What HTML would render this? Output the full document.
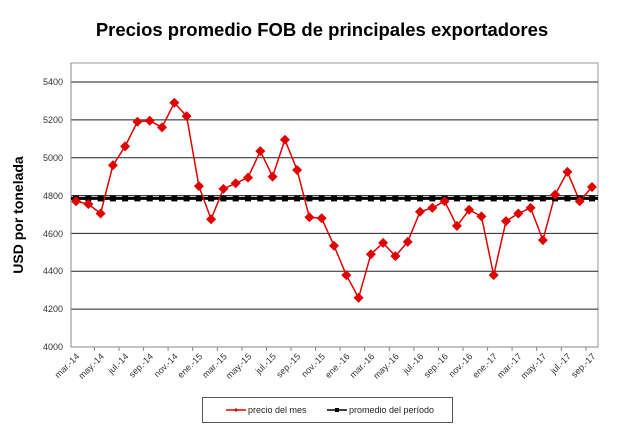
<!DOCTYPE html>
<html><head><meta charset="utf-8"><style>
body{margin:0;background:#fff;width:640px;height:435px;overflow:hidden}
svg{font-family:"Liberation Sans",Arial,sans-serif}
</style></head><body>
<svg width="640" height="435" viewBox="0 0 640 435" xmlns="http://www.w3.org/2000/svg">
<text x="322" y="36" text-anchor="middle" font-size="18.5" font-weight="bold">Precios promedio FOB de principales exportadores</text>
<text transform="translate(23,215) rotate(-90)" text-anchor="middle" font-size="14" font-weight="bold">USD por tonelada</text>
<rect x="71" y="63" width="527" height="284" fill="#fff" stroke="#999" stroke-width="1"/>
<g stroke="#222" stroke-width="1">
<line x1="71" x2="598" y1="82" y2="82"/><line x1="71" x2="598" y1="119.9" y2="119.9"/>
<line x1="71" x2="598" y1="157.7" y2="157.7"/><line x1="71" x2="598" y1="195.6" y2="195.6"/>
<line x1="71" x2="598" y1="233.4" y2="233.4"/><line x1="71" x2="598" y1="271.3" y2="271.3"/>
<line x1="71" x2="598" y1="309.1" y2="309.1"/>
</g>
<line x1="71" y1="63" x2="71" y2="347" stroke="#888"/>
<line x1="71" y1="347" x2="598" y2="347" stroke="#888"/>
<g font-size="9" fill="#333" text-anchor="end">
<text x="63" y="85">5400</text><text x="63" y="123">5200</text><text x="63" y="161">5000</text>
<text x="63" y="199">4800</text><text x="63" y="237">4600</text><text x="63" y="274">4400</text>
<text x="63" y="312">4200</text><text x="63" y="350">4000</text>
</g>
<line x1="71" y1="198.4" x2="598" y2="198.4" stroke="#000" stroke-width="3"/>
<polyline fill="none" stroke="#e00000" stroke-width="1.5" points="76,201.2 88.3,204.1 100.6,213.5 112.9,165.3 125.1,146.4 137.4,121.7 149.7,120.8 162,127.4 174.3,102.8 186.6,116.1 198.9,186.1 211.1,219.2 223.4,188.9 235.7,183.3 248,177.6 260.3,151.1 272.6,176.6 284.9,139.7 297.1,170 309.4,217.3 321.7,218.3 334,245.7 346.3,275.1 358.6,297.8 370.9,254.2 383.1,242.9 395.4,256.1 407.7,241.9 420,211.7 432.3,207.9 444.6,201.2 456.9,225.9 469.1,209.8 481.4,216.4 493.7,275.1 506,221.1 518.3,213.5 530.6,207.9 542.9,240.1 555.1,194.6 567.4,171.9 579.7,201.2 592,187"/>
<g fill="#000">
<rect x="73" y="195.4" width="6" height="6"/><rect x="85.3" y="195.4" width="6" height="6"/><rect x="97.6" y="195.4" width="6" height="6"/><rect x="109.9" y="195.4" width="6" height="6"/><rect x="122.1" y="195.4" width="6" height="6"/><rect x="134.4" y="195.4" width="6" height="6"/><rect x="146.7" y="195.4" width="6" height="6"/><rect x="159" y="195.4" width="6" height="6"/><rect x="171.3" y="195.4" width="6" height="6"/><rect x="183.6" y="195.4" width="6" height="6"/><rect x="195.9" y="195.4" width="6" height="6"/><rect x="208.1" y="195.4" width="6" height="6"/><rect x="220.4" y="195.4" width="6" height="6"/><rect x="232.7" y="195.4" width="6" height="6"/><rect x="245" y="195.4" width="6" height="6"/><rect x="257.3" y="195.4" width="6" height="6"/><rect x="269.6" y="195.4" width="6" height="6"/><rect x="281.9" y="195.4" width="6" height="6"/><rect x="294.1" y="195.4" width="6" height="6"/><rect x="306.4" y="195.4" width="6" height="6"/><rect x="318.7" y="195.4" width="6" height="6"/><rect x="331" y="195.4" width="6" height="6"/><rect x="343.3" y="195.4" width="6" height="6"/><rect x="355.6" y="195.4" width="6" height="6"/><rect x="367.9" y="195.4" width="6" height="6"/><rect x="380.1" y="195.4" width="6" height="6"/><rect x="392.4" y="195.4" width="6" height="6"/><rect x="404.7" y="195.4" width="6" height="6"/><rect x="417" y="195.4" width="6" height="6"/><rect x="429.3" y="195.4" width="6" height="6"/><rect x="441.6" y="195.4" width="6" height="6"/><rect x="453.9" y="195.4" width="6" height="6"/><rect x="466.1" y="195.4" width="6" height="6"/><rect x="478.4" y="195.4" width="6" height="6"/><rect x="490.7" y="195.4" width="6" height="6"/><rect x="503" y="195.4" width="6" height="6"/><rect x="515.3" y="195.4" width="6" height="6"/><rect x="527.6" y="195.4" width="6" height="6"/><rect x="539.9" y="195.4" width="6" height="6"/><rect x="552.1" y="195.4" width="6" height="6"/><rect x="564.4" y="195.4" width="6" height="6"/><rect x="576.7" y="195.4" width="6" height="6"/><rect x="589" y="195.4" width="6" height="6"/>
</g>
<g fill="#e00000">
<path d="M76,196.2l5,5l-5,5l-5,-5z"/><path d="M88.3,199.1l5,5l-5,5l-5,-5z"/><path d="M100.6,208.5l5,5l-5,5l-5,-5z"/><path d="M112.9,160.3l5,5l-5,5l-5,-5z"/><path d="M125.1,141.4l5,5l-5,5l-5,-5z"/><path d="M137.4,116.7l5,5l-5,5l-5,-5z"/><path d="M149.7,115.8l5,5l-5,5l-5,-5z"/><path d="M162,122.4l5,5l-5,5l-5,-5z"/><path d="M174.3,97.8l5,5l-5,5l-5,-5z"/><path d="M186.6,111.1l5,5l-5,5l-5,-5z"/><path d="M198.9,181.1l5,5l-5,5l-5,-5z"/><path d="M211.1,214.2l5,5l-5,5l-5,-5z"/><path d="M223.4,183.9l5,5l-5,5l-5,-5z"/><path d="M235.7,178.3l5,5l-5,5l-5,-5z"/><path d="M248,172.6l5,5l-5,5l-5,-5z"/><path d="M260.3,146.1l5,5l-5,5l-5,-5z"/><path d="M272.6,171.6l5,5l-5,5l-5,-5z"/><path d="M284.9,134.7l5,5l-5,5l-5,-5z"/><path d="M297.1,165l5,5l-5,5l-5,-5z"/><path d="M309.4,212.3l5,5l-5,5l-5,-5z"/><path d="M321.7,213.3l5,5l-5,5l-5,-5z"/><path d="M334,240.7l5,5l-5,5l-5,-5z"/><path d="M346.3,270.1l5,5l-5,5l-5,-5z"/><path d="M358.6,292.8l5,5l-5,5l-5,-5z"/><path d="M370.9,249.2l5,5l-5,5l-5,-5z"/><path d="M383.1,237.9l5,5l-5,5l-5,-5z"/><path d="M395.4,251.1l5,5l-5,5l-5,-5z"/><path d="M407.7,236.9l5,5l-5,5l-5,-5z"/><path d="M420,206.7l5,5l-5,5l-5,-5z"/><path d="M432.3,202.9l5,5l-5,5l-5,-5z"/><path d="M444.6,196.2l5,5l-5,5l-5,-5z"/><path d="M456.9,220.9l5,5l-5,5l-5,-5z"/><path d="M469.1,204.8l5,5l-5,5l-5,-5z"/><path d="M481.4,211.4l5,5l-5,5l-5,-5z"/><path d="M493.7,270.1l5,5l-5,5l-5,-5z"/><path d="M506,216.1l5,5l-5,5l-5,-5z"/><path d="M518.3,208.5l5,5l-5,5l-5,-5z"/><path d="M530.6,202.9l5,5l-5,5l-5,-5z"/><path d="M542.9,235.1l5,5l-5,5l-5,-5z"/><path d="M555.1,189.6l5,5l-5,5l-5,-5z"/><path d="M567.4,166.9l5,5l-5,5l-5,-5z"/><path d="M579.7,196.2l5,5l-5,5l-5,-5z"/><path d="M592,182l5,5l-5,5l-5,-5z"/>
</g>
<g stroke="#888" stroke-width="1">
<line x1="94.4" x2="94.4" y1="347" y2="351"/><line x1="119" x2="119" y1="347" y2="351"/><line x1="143.6" x2="143.6" y1="347" y2="351"/><line x1="168.1" x2="168.1" y1="347" y2="351"/><line x1="192.7" x2="192.7" y1="347" y2="351"/><line x1="217.3" x2="217.3" y1="347" y2="351"/><line x1="241.9" x2="241.9" y1="347" y2="351"/><line x1="266.4" x2="266.4" y1="347" y2="351"/><line x1="291" x2="291" y1="347" y2="351"/><line x1="315.6" x2="315.6" y1="347" y2="351"/><line x1="340.1" x2="340.1" y1="347" y2="351"/><line x1="364.7" x2="364.7" y1="347" y2="351"/><line x1="389.3" x2="389.3" y1="347" y2="351"/><line x1="413.9" x2="413.9" y1="347" y2="351"/><line x1="438.4" x2="438.4" y1="347" y2="351"/><line x1="463" x2="463" y1="347" y2="351"/><line x1="487.6" x2="487.6" y1="347" y2="351"/><line x1="512.1" x2="512.1" y1="347" y2="351"/><line x1="536.7" x2="536.7" y1="347" y2="351"/><line x1="561.3" x2="561.3" y1="347" y2="351"/><line x1="585.9" x2="585.9" y1="347" y2="351"/>
</g>
<g font-size="9" fill="#333" text-anchor="end">
<text transform="translate(80,357) rotate(-45)">mar.-14</text>
<text transform="translate(104.6,357) rotate(-45)">may.-14</text>
<text transform="translate(129.1,357) rotate(-45)">jul.-14</text>
<text transform="translate(153.7,357) rotate(-45)">sep.-14</text>
<text transform="translate(178.3,357) rotate(-45)">nov.-14</text>
<text transform="translate(202.9,357) rotate(-45)">ene.-15</text>
<text transform="translate(227.4,357) rotate(-45)">mar.-15</text>
<text transform="translate(252,357) rotate(-45)">may.-15</text>
<text transform="translate(276.6,357) rotate(-45)">jul.-15</text>
<text transform="translate(301.1,357) rotate(-45)">sep.-15</text>
<text transform="translate(325.7,357) rotate(-45)">nov.-15</text>
<text transform="translate(350.3,357) rotate(-45)">ene.-16</text>
<text transform="translate(374.9,357) rotate(-45)">mar.-16</text>
<text transform="translate(399.4,357) rotate(-45)">may.-16</text>
<text transform="translate(424,357) rotate(-45)">jul.-16</text>
<text transform="translate(448.6,357) rotate(-45)">sep.-16</text>
<text transform="translate(473.1,357) rotate(-45)">nov.-16</text>
<text transform="translate(497.7,357) rotate(-45)">ene.-17</text>
<text transform="translate(522.3,357) rotate(-45)">mar.-17</text>
<text transform="translate(546.9,357) rotate(-45)">may.-17</text>
<text transform="translate(571.4,357) rotate(-45)">jul.-17</text>
<text transform="translate(596,357) rotate(-45)">sep.-17</text>
</g>
<rect x="202.5" y="397.5" width="250" height="25" fill="#fff" stroke="#555"/>
<line x1="226" x2="246" y1="410" y2="410" stroke="#e00000" stroke-width="1.5"/>
<path d="M236,408l2,2l-2,2l-2,-2z" fill="#e00000"/>
<text x="248" y="413" font-size="9" fill="#222">precio del mes</text>
<line x1="327" x2="347" y1="410" y2="410" stroke="#000" stroke-width="1.5"/>
<rect x="335" y="408" width="4" height="4" fill="#000"/>
<text x="349" y="413" font-size="9" fill="#222">promedio del período</text>
</svg>
</body></html>
